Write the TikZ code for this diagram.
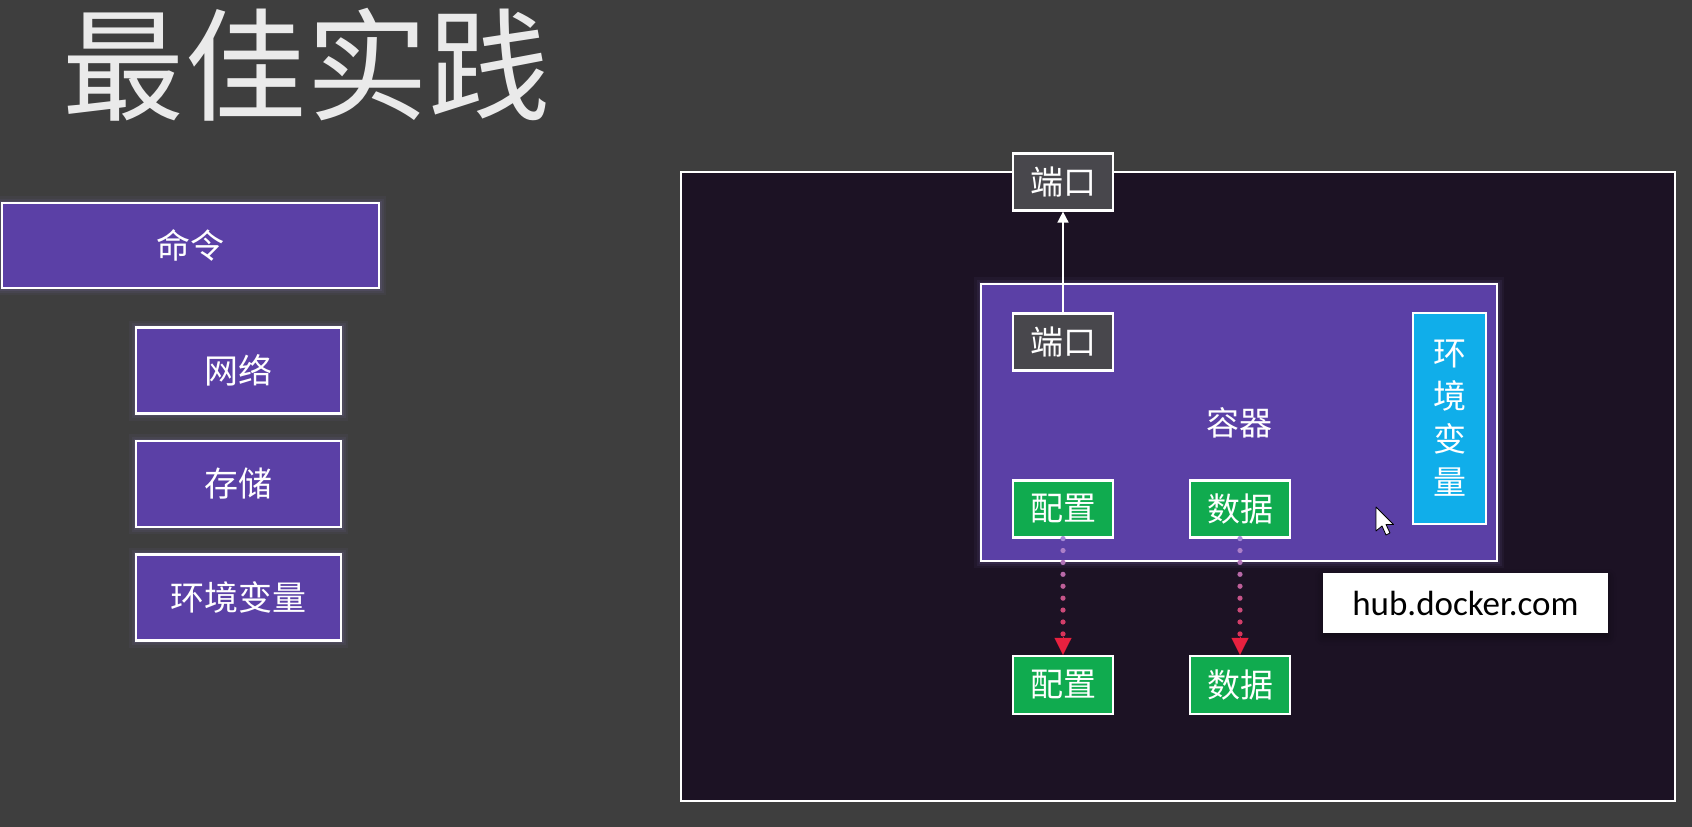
\documentclass[tikz,border=0pt]{standalone}
\usepackage{fontspec}
\setmainfont{Noto Sans CJK SC}
\newfontfamily\latinfont{Carlito}
\usetikzlibrary{arrows.meta,calc,shadows.blur}
\definecolor{bg}{HTML}{3E3E3E}
\definecolor{panel}{HTML}{1C1224}
\definecolor{violet}{HTML}{5B40A6}
\definecolor{halo}{HTML}{8C78C8}
\definecolor{portgray}{HTML}{48474C}
\definecolor{okgreen}{HTML}{10AB4F}
\definecolor{skyblue}{HTML}{10AEEA}
\definecolor{dotpurple}{HTML}{A58AD8}
\definecolor{dotred}{HTML}{D8345A}
\definecolor{tipred}{HTML}{E8213F}
\definecolor{titlewhite}{HTML}{EAEAEA}
\begin{document}
\begin{tikzpicture}[x=1pt,y=-1pt,
  box/.style={draw=white, line width=2.2pt, text=white, inner sep=0pt,
    font=\fontsize{33}{36}\selectfont},
  glow/.style={preaction={draw=halo, line width=14pt, draw opacity=0.06},
               preaction={draw=halo, line width=9pt, draw opacity=0.08},
               preaction={draw=halo, line width=5pt, draw opacity=0.12}},
  leftbox/.style={box, fill=violet, glow, font=\fontsize{34}{36}\selectfont},
  smallbox/.style={box, minimum width=100, minimum height=57},
  portbox/.style={smallbox, fill=portgray},
  greenbox/.style={smallbox, fill=okgreen},
  dotc/.style={fill=#1},
  arrowup/.style={draw=white, line width=1.6pt, -{Triangle[width=11pt,length=11pt]}},
  tipdown/.style={draw=tipred, line width=0.2pt, -{Triangle[width=17pt,length=17pt,color=tipred]}}
]
\fill[bg] (0,0) rectangle (1692,827);
\useasboundingbox (0,0) rectangle (1692,827);

% title
\node[text=titlewhite, font=\fontsize{122}{128}\selectfont, inner sep=0pt] (title) at (306,65) {最佳实践};

% left column
\node[leftbox, minimum width=377, minimum height=85] (cmd) at (190.5,245.5) {命令};
\node[leftbox, minimum width=205, minimum height=86] (net) at (238.5,370.5) {网络};
\node[leftbox, minimum width=205, minimum height=86] (sto) at (238.5,484) {存储};
\node[leftbox, minimum width=205, minimum height=86] (env) at (238.5,597.5) {环境变量};

% right panel
\node[draw=white, line width=2pt, fill=panel, minimum width=994, minimum height=629, inner sep=0pt] (panel) at (1178,486.5) {};
\node[box, fill=violet, glow, minimum width=516, minimum height=277] (ctr) at (1239,422.5) {};
\node[text=white, font=\fontsize{33}{36}\selectfont] (ctrlabel) at (1239,423) {容器};

\node[portbox] (porttop) at (1063,182) {端口};
\node[portbox] (portin) at (1063,342) {端口};
\node[box, fill=skyblue, minimum width=73, minimum height=211, align=center,
  font=\fontsize{33}{43}\selectfont] (envv) at (1449.5,418.5) {环\\境\\变\\量};

\node[greenbox] (cfg) at (1063,509) {配置};
\node[greenbox] (dat) at (1240,509) {数据};
\node[greenbox, minimum height=58] (cfg2) at (1063,685) {配置};
\node[greenbox, minimum height=58] (dat2) at (1240,685) {数据};

\node[fill=white, minimum width=285, minimum height=60, inner sep=0pt,
  blur shadow={shadow xshift=0pt, shadow yshift=-4pt, shadow blur radius=8pt, shadow opacity=40},
  font=\latinfont\fontsize{35}{38}\selectfont, text=black] (hub) at (1465.5,603) {hub.docker.com};

% connectors
\draw[arrowup] (portin.north) -- (porttop.south);

\foreach \a/\b in {cfg/cfg2, dat/dat2}{
  \foreach \i in {0,...,8}{
    \pgfmathtruncatemacro\p{100-\i*100/8}
    \fill[dotc={dotpurple!\p!dotred}] ($(\a.south)!\i/8!($(\b.north)+(0,-21)$)$) circle (2.6pt);
  }
  \draw[tipdown] ($(\b.north)+(0,-18)$) -- (\b.north);
}

% mouse cursor
\coordinate (cur) at (1376,507);
\draw[fill=white, draw=black, line width=0.8pt, line join=round]
  (cur) -- ++(0,24) -- ++(6,-5) -- ++(4,9) -- ++(4,-2) -- ++(-4,-8.5) -- ++(7.5,0) -- cycle;
\end{tikzpicture}
\end{document}
